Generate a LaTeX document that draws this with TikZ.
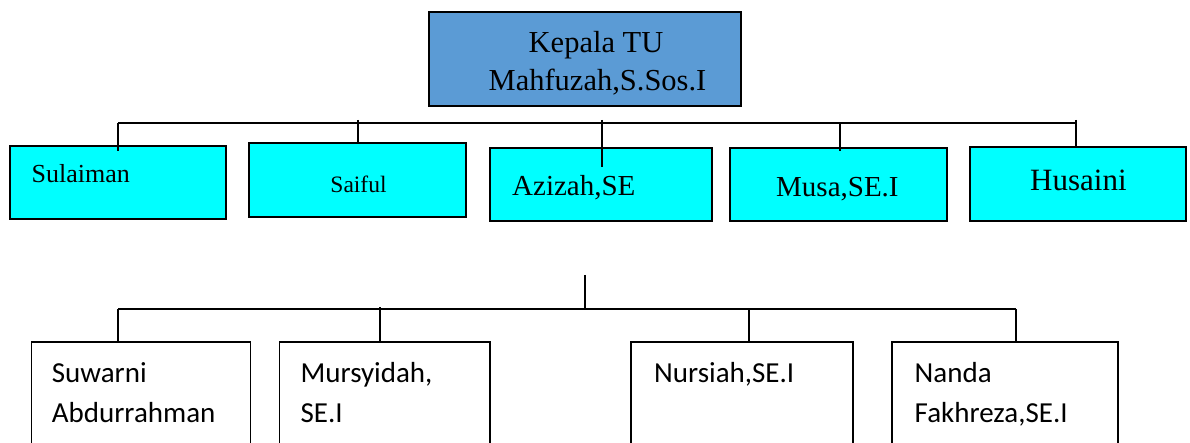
\documentclass[tikz,border=0pt]{standalone}
\usepackage{fontspec}
\setmainfont{Liberation Serif}
\newfontfamily\calfont{Carlito}
\definecolor{topblue}{HTML}{5B9BD5}
\definecolor{cyanbox}{HTML}{00FFFF}
\begin{document}
\begin{tikzpicture}[x=1pt,y=-1pt,
  topbox/.style={draw=black, line width=2.6pt, fill=topblue, inner sep=0pt},
  cbox/.style={draw=black, line width=2.4pt, fill=cyanbox, inner sep=0pt},
  wbox/.style={draw=black, line width=1.3pt, fill=white, inner sep=0pt},
  conn/.style={draw=black, line width=1.3pt},
  hconn/.style={draw=black, line width=2pt},
  txt/.style={inner sep=0pt, anchor=base west},
  ctxt/.style={inner sep=0pt, anchor=base},
  ser/.style={font=\fontsize{#1}{#1}\selectfont},
  cal/.style={font=\calfont\fontsize{29}{35}\selectfont},
]
\useasboundingbox (0,0) rectangle (1190,443);
\clip (0,0) rectangle (1190,443);
\fill[white] (0,0) rectangle (1190,443);

% top box
\node[topbox, minimum width=312pt, minimum height=94pt] (top) at (585,59) {};
\node[ctxt, ser=30.5] (top1) at (596,53) {Kepala TU};
\node[ctxt, ser=30.5] (top2) at (597.5,91) {Mahfuzah,S.Sos.I};

% upper connectors
\coordinate (tl) at (118,123);
\coordinate (tr) at (1076,123);
\coordinate (t2) at (358,120);
\coordinate (t3) at (602,120);
\coordinate (t4) at (840,123);
\coordinate (t5) at (1076,120);

% cyan boxes
\node[cbox, minimum width=216pt, minimum height=73pt] (sul) at (118,182.5) {};
\node[cbox, minimum width=217pt, minimum height=74pt] (sai) at (357.5,180.3) {};
\node[cbox, minimum width=222pt, minimum height=73pt] (azi) at (601,184.5) {};
\node[cbox, minimum width=217pt, minimum height=73pt] (mus) at (838.5,184.5) {};
\node[cbox, minimum width=216pt, minimum height=74pt] (hus) at (1078,184) {};

\coordinate (e1) at (118,151);
\coordinate (e3) at (602,167);
\coordinate (e4) at (840,151);

\draw[hconn] (tl) -- (tr);
\draw[conn] (tl) -- (e1);
\draw[conn] (t2) -- (t2 |- sai.north);
\draw[conn] (t3) -- (e3);
\draw[conn] (t4) -- (e4);
\draw[conn] (t5) -- (t5 |- hus.north);

\node[txt, ser=26] (tsul) at (31.5,183) {Sulaiman};
\node[ctxt, ser=23.5] (tsai) at (358.5,193) {Saiful};
\node[txt, ser=29] (tazi) at (512,196) {Azizah,SE};
\node[txt, ser=29] (tmus) at (776,197) {Musa,SE.I};
\node[txt, ser=31] (thus) at (1030,191) {Husaini};

% lower connectors
\coordinate (bj) at (585,275);
\coordinate (bm) at (585,309);
\coordinate (bl) at (118,309);
\coordinate (br) at (1016,309);
\coordinate (b2) at (380,307);
\coordinate (b3) at (749,309);

% white boxes
\node[wbox, minimum width=219pt, minimum height=128pt] (suw) at (141,406) {};
\node[wbox, minimum width=210.6pt, minimum height=128pt] (mur) at (384.7,406) {};
\node[wbox, minimum width=222pt, minimum height=128pt] (nur) at (742,406) {};
\node[wbox, minimum width=226pt, minimum height=128pt] (nan) at (1005,406) {};

\draw[conn] (bj) -- (bm);
\draw[conn] (bl) -- (br);
\draw[conn] (bl) -- (bl |- suw.north);
\draw[conn] (b2) -- (b2 |- mur.north);
\draw[conn] (b3) -- (b3 |- nur.north);
\draw[conn] (br) -- (br |- nan.north);

\node[txt, cal] (s1) at (51.7,382) {Suwarni};
\node[txt, cal] (s2) at (51.7,422) {Abdurrahman};
\node[txt, cal] (m1) at (300.4,382) {Mursyidah,};
\node[txt, cal] (m2) at (300.4,422) {SE.I};
\node[txt, cal] (n1) at (654,382) {Nursiah,SE.I};
\node[txt, cal] (f1) at (914.5,382) {Nanda};
\node[txt, cal] (f2) at (914.5,422) {Fakhreza,SE.I};
\end{tikzpicture}
\end{document}
